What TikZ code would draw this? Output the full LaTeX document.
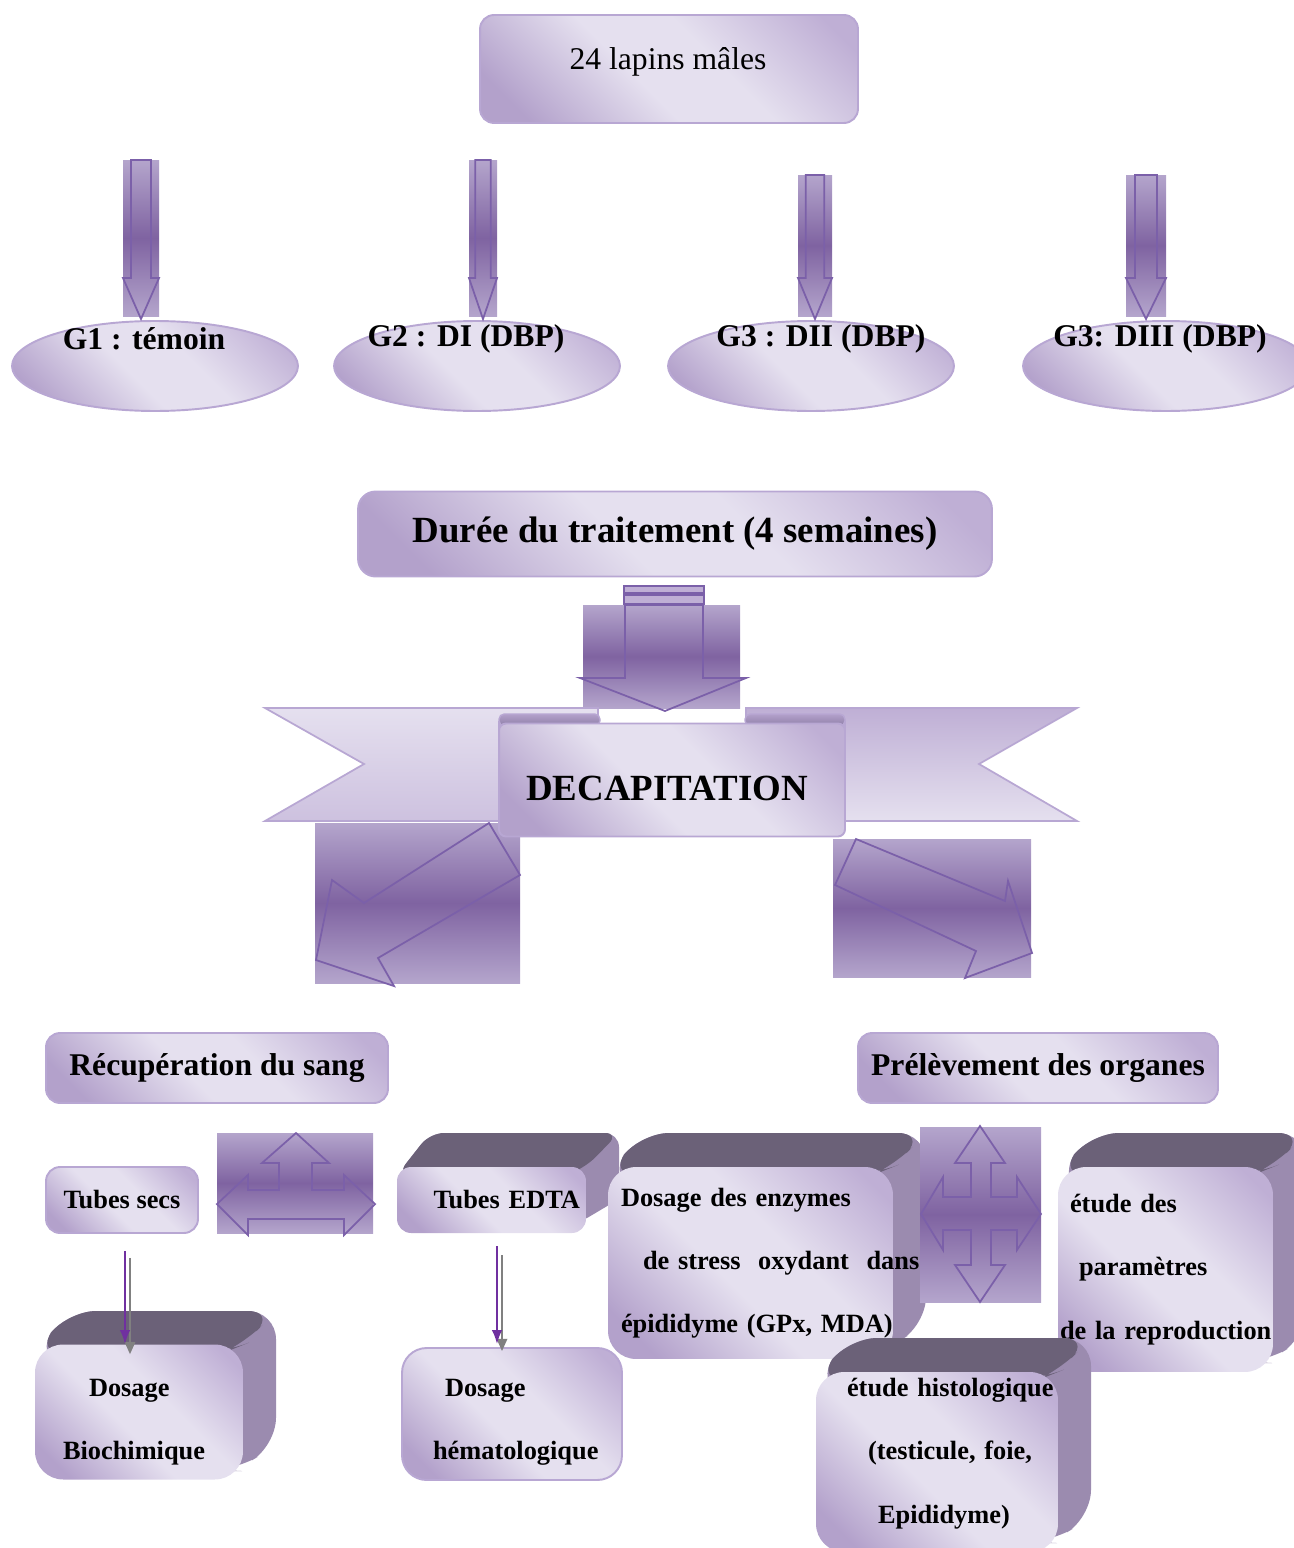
\documentclass[tikz,border=0pt]{standalone}
\usepackage{fontspec}
\setmainfont{Liberation Serif}
\usetikzlibrary{arrows.meta,shapes.geometric}

\definecolor{lila}{HTML}{B8A7D3}
\definecolor{lilalt}{HTML}{E5E0EF}
\definecolor{lilamd}{HTML}{BFAFD5}
\definecolor{lilady}{HTML}{B3A1CB}
\definecolor{wing}{HTML}{CDC1DF}
\definecolor{plum}{HTML}{7F63A1}
\definecolor{plumlt}{HTML}{B4A5CC}
\definecolor{plumln}{HTML}{7B60A9}
\definecolor{cubetop}{HTML}{6B6178}
\definecolor{cubeside}{HTML}{9B8BAF}
\definecolor{curl}{HTML}{8E7EA7}
\definecolor{lnkpurple}{HTML}{7030A0}

\pgfdeclareverticalshading{lilashade}{100bp}{color(0bp)=(lilady); color(22bp)=(lilady); color(44bp)=(lilalt); color(58bp)=(lilalt); color(80bp)=(lilamd); color(100bp)=(lilamd)}

% back and top of a 3d box, front face corners given
\newcommand{\cubeback}[5]{%
  \fill[cubeside,rounded corners=#5] (#1,#2+8) -- (#1+33,#2-34) -- (#3+33,#2-34) -- (#3+33,#4-34) -- (#3-9,#4-9) -- (#3-29,#4-9) -- cycle;
  \fill[cubetop,rounded corners=#5] (#1,#2+8) -- (#1+33,#2-34) -- (#3+33,#2-34) -- (#3,#2) -- (#3-20,#2+8) -- cycle;
}

\begin{document}
\begin{tikzpicture}[x=0.02cm,y=-0.02cm,
  >=Latex,
  box/.style={draw=lila,line width=1.1pt,rounded corners=8pt,shade,shading=lilashade,shading angle=-45,align=center},
  grp/.style={ellipse,draw=lila,line width=1.1pt,shade,shading=lilashade,shading angle=-45,minimum width=5.72cm,minimum height=1.8cm},
  face/.style={rounded corners=16pt,shade,shading=lilashade,shading angle=-45,inner sep=0pt,align=left},
  bgshade/.style={top color=plumlt,bottom color=plumlt,middle color=plum},
  barrow/.style={draw=plumln,line width=1pt},
  lnkp/.style={-{Latex[length=8pt,width=6pt]},draw=lnkpurple,line width=1.1pt},
  lnkg/.style={-{Triangle[length=7pt,width=6pt]},draw=gray,line width=1pt},
  lbl/.style={font=\fontsize{18}{22}\selectfont\bfseries},
  big/.style={font=\fontsize{21}{25}\selectfont\bfseries},
  txt/.style={font=\fontsize{15}{36}\selectfont\bfseries}
]
\useasboundingbox (0,0) rectangle (1294,1548);

\node[box,minimum width=7.56cm,minimum height=2.16cm] (lapins) at (669,69) {};
\node[font=\fontsize{18}{22}\selectfont] (lapinst) at (668,62) {24 lapins mâles};

\foreach \n/\x/\lx/\lab in {1/155/144/G1 : témoin,2/477/466/G2 : DI (DBP),3/811/821/G3 : DII (DBP),4/1166/1160/G3: DIII (DBP)}{
  \node[grp] (g\n) at (\x,366) {};
  \node[lbl] (gl\n) at (\lx,339) {\lab};
}
\foreach \x/\w/\tp in {141/18/160,483/14/160,815/17/175,1146/20/175}{
  \shade[bgshade] (\x-\w,\tp) rectangle (\x+\w,316);
  \draw[barrow] (\x-0.55*\w,\tp) -- (\x+0.55*\w,\tp) -- (\x+0.55*\w,278) -- (\x+\w,278) -- (\x,319) -- (\x-\w,278) -- (\x-0.55*\w,278) -- cycle;
}

\node[box,big,rounded corners=10pt,minimum width=12.68cm,minimum height=1.7cm] (duree) at (675,534) {Durée du traitement (4 semaines)};

\shade[bgshade] (583,605) rectangle (740,708);
\draw[barrow,fill=lilamd] (624,586) rectangle (704,593);
\draw[barrow,fill=lilamd] (624,595) rectangle (704,604);
\draw[barrow] (625,605) -- (703,605) -- (703,678) -- (746,678) -- (665,711) -- (580,678) -- (625,678) -- cycle;

\shade[bgshade] (315,823) rectangle (520,983);
\draw[barrow] (489,823) -- (364,903) -- (332,880) -- (316,960) -- (394,986) -- (378,958) -- (520,875) -- cycle;
\shade[bgshade] (833,839) rectangle (1031,977);
\draw[barrow] (856,839) -- (1005,901) -- (1008,881) -- (1032,953) -- (965,978) -- (976,951) -- (835,885) -- cycle;

\shade[draw=lila,line width=1pt,top color=lilalt,bottom color=wing] (265,708) -- (598,708) -- (598,722) -- (499,722) -- (499,821) -- (265,821) -- (364,764) -- cycle;
\shade[draw=lila,line width=1pt,top color=lilamd,bottom color=lilalt] (1077,708) -- (746,708) -- (746,722) -- (845,722) -- (845,821) -- (1077,821) -- (979,764) -- cycle;
\shade[draw=lila,line width=0.8pt,top color=lilady,bottom color=curl,rounded corners=3pt] (499,714) rectangle (600,726);
\shade[draw=lila,line width=0.8pt,top color=lilady,bottom color=curl,rounded corners=3pt] (745,714) rectangle (845,726);
\node[box,rounded corners=4pt,minimum width=6.92cm,minimum height=2.26cm] (decap) at (672,780) {};
\node[big] (decapt) at (667,788) {DECAPITATION};

\node[box,lbl,minimum width=6.84cm,minimum height=1.4cm] (recup) at (217,1068) {Récupération du sang};
\node[box,lbl,minimum width=7.2cm,minimum height=1.4cm] (prelev) at (1038,1068) {Prélèvement des organes};
\node[box,txt,minimum width=3.04cm,minimum height=1.32cm] (tsecs) at (122,1200) {Tubes secs};

\shade[bgshade] (217,1133) rectangle (373,1233);
\draw[barrow] (296,1133) -- (329,1163) -- (312,1163) -- (312,1190) -- (344,1190) -- (344,1175) -- (375,1204) -- (344,1235) -- (344,1219) -- (248,1219) -- (248,1235) -- (217,1204) -- (248,1175) -- (248,1190) -- (279,1190) -- (279,1163) -- (262,1163) -- cycle;

\cubeback{397}{1167}{586}{1233}{8pt}
\node[face,txt,rounded corners=8pt,minimum width=3.78cm,minimum height=1.32cm,text width=3.54cm,align=right] (edta) at (491.5,1200) {Tubes EDTA};

\cubeback{35}{1345}{243}{1480}{16pt}
\node[face,txt,minimum width=4.16cm,minimum height=2.7cm,text width=3.04cm,text height=21pt] (bio) at (139,1412) {\hspace*{0.52cm}Dosage\\Biochimique};

\node[box,txt,rounded corners=14pt,minimum width=4.4cm,minimum height=2.64cm,text width=3.16cm,text height=19pt,align=left] (hemato) at (512,1414) {\hspace*{0.24cm}Dosage\\\mbox{hématologique}};

\cubeback{608}{1167}{893}{1359}{16pt}
\node[face,txt,minimum width=5.7cm,minimum height=3.84cm,text width=5.18cm] (enzy) at (750.5,1263) {Dosage des enzymes\\\mbox{\hspace*{0.44cm}de stress\ \ oxydant\ \ dans}\\\mbox{épididyme (GPx, MDA)}};

\shade[bgshade] (920,1127) rectangle (1041,1302);
\draw[barrow] (980,1126) -- (1005,1163) -- (991,1163) -- (991,1197) -- (1017,1197) -- (1017,1177) -- (1041,1214) -- (1017,1250) -- (1017,1230) -- (991,1230) -- (991,1265) -- (1005,1265) -- (980,1302) -- (955,1265) -- (971,1265) -- (971,1230) -- (943,1230) -- (943,1250) -- (921,1214) -- (943,1177) -- (943,1197) -- (971,1197) -- (971,1163) -- (955,1163) -- cycle;

\cubeback{1058}{1167}{1273}{1372}{16pt}
\node[face,txt,minimum width=4.3cm,minimum height=4.1cm,text width=4.22cm] (repro) at (1165.5,1269.5) {\hspace*{0.2cm}étude des\\\hspace*{0.38cm}paramètres\\\mbox{de la reproduction}};

\cubeback{816}{1372}{1058}{1552}{16pt}
\node[face,txt,minimum width=4.84cm,minimum height=3.6cm,text width=4.84cm,text depth=85pt] (histo) at (937,1462) {\mbox{\hspace*{0.62cm}étude histologique}\\\hspace*{1.04cm}(testicule, foie,\\\hspace*{1.24cm}Epididyme)};

\draw[lnkg,shorten <=0.48cm] ([xshift=0.16cm]tsecs.south) -- ([xshift=0.16cm,yshift=-0.2cm]tsecs.south |- bio.north);
\draw[lnkp,shorten <=0.34cm] ([xshift=0.06cm]tsecs.south) -- ([xshift=0.06cm]tsecs.south |- bio.north);
\draw[lnkg,shorten <=0.44cm] ([xshift=0.21cm]edta.south) -- ([xshift=0.21cm,yshift=-0.08cm]edta.south |- hemato.north);
\draw[lnkp,shorten <=0.26cm] ([xshift=0.11cm]edta.south) -- ([xshift=0.11cm,yshift=0.06cm]edta.south |- hemato.north);
\end{tikzpicture}
\end{document}
